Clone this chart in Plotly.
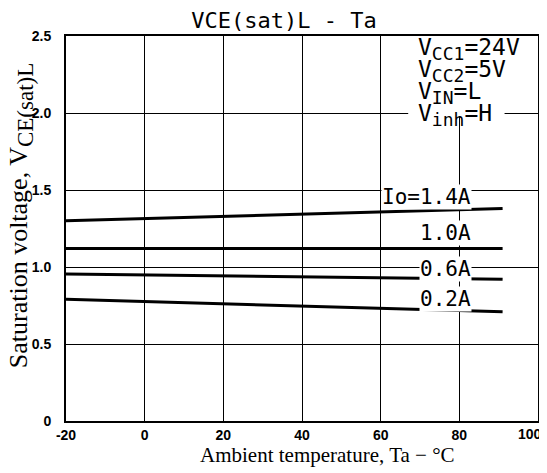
import plotly.graph_objects as go

# Ambient temperature (deg C) at the ends of each curve
ta = [-20, 91]

# Saturation voltage V_CE(sat)L for each output current
io_labels = ["Io=1.4A", "1.0A", "0.6A", "0.2A"]
v_14 = [1.30, 1.38]
v_10 = [1.12, 1.12]
v_06 = [0.955, 0.92]
v_02 = [0.79, 0.71]

label_y = [1.455, 1.22, 0.99, 0.79]

cond_lines = [
    "V<sub><span style='font-size:18px'>CC1</span></sub>=24V",
    "V<sub><span style='font-size:18px'>CC2</span></sub>=5V",
    "V<sub><span style='font-size:18px'>IN</span></sub>=L",
    "V<sub><span style='font-size:18px'>inh</span></sub>=H",
]
cond_y = [2.416, 2.273, 2.13, 1.99]

x_ticks = [-20, 0, 20, 40, 60, 80]
x_tick_text = ["-20", "0", "20", "40", "60", "80"]
x_last_tick = 100
y_ticks = [0, 0.5, 1.0, 1.5, 2.0, 2.5]
y_tick_text = ["0", "0.5", "1.0", "1.5", "2.0", "2.5"]

mono = "DejaVu Sans Mono"
serif = "Liberation Serif"
tick_font = dict(family="Liberation Sans", size=14, color="black", weight="bold")

fig = go.Figure()
for vals in [v_14, v_10, v_06, v_02]:
    fig.add_trace(go.Scatter(x=ta, y=vals, mode="lines",
                             line=dict(color="black", width=3), showlegend=False))

for text, y in zip(io_labels, label_y):
    fig.add_annotation(x=83.3, y=y, text=text, showarrow=False, xanchor="right",
                       font=dict(family=mono, size=21, color="black"),
                       bgcolor="white", borderpad=0)

# white patches behind the conditions, hide the grid there
fig.add_shape(type="rect", x0=61, x1=100, y0=2.006, y1=2.5, layer="between",
              fillcolor="white", line=dict(width=0))
fig.add_shape(type="rect", x0=67, x1=91.5, y0=1.98, y1=2.02, layer="between",
              fillcolor="white", line=dict(width=0))
for text, y in zip(cond_lines, cond_y):
    fig.add_annotation(x=69, y=y, text=text, showarrow=False, xanchor="left",
                       font=dict(family=mono, size=23, color="black"))

# last x tick label sits inside the right edge
fig.add_annotation(x=x_last_tick, y=0, yref="paper", text=str(x_last_tick),
                   showarrow=False, xanchor="right", yanchor="middle",
                   xshift=6, yshift=-13, font=tick_font)

# axis titles as annotations so they sit where the reference has them
fig.add_annotation(x=0.553, y=-0.088, xref="paper", yref="paper", showarrow=False,
                   xanchor="center", yanchor="middle",
                   text="Ambient temperature, Ta − °C",
                   font=dict(family=serif, size=21, color="black"))
fig.add_annotation(x=-0.097, y=0.535, xref="paper", yref="paper", showarrow=False,
                   xanchor="center", yanchor="middle", textangle=-90,
                   text="Saturation voltage, V<sub><span style='font-size:23px'>CE(sat)L</span></sub>",
                   font=dict(family=serif, size=26, color="black"))

# page body adds an 8px margin, so the figure is 8px smaller than the window
fig.update_layout(
    width=539, height=465,
    margin=dict(l=58, r=9, t=28, b=52),
    paper_bgcolor="white", plot_bgcolor="white",
    title=dict(text="VCE(sat)L - Ta", x=0.512, xanchor="center", y=0.974,
               yanchor="middle", font=dict(family=mono, size=22, color="black")),
)
fig.update_xaxes(
    range=[-20, 100], tickvals=x_ticks, ticktext=x_tick_text,
    showgrid=True, gridcolor="black", gridwidth=1,
    showline=True, linecolor="black", linewidth=2, mirror=True,
    ticks="", zeroline=False, automargin=False, tickfont=tick_font,
)
fig.update_yaxes(
    range=[0, 2.5], tickvals=y_ticks, ticktext=y_tick_text,
    showgrid=True, gridcolor="black", gridwidth=1,
    showline=True, linecolor="black", linewidth=2, mirror=True,
    ticks="", zeroline=False, ticklabelstandoff=10, automargin=False,
    tickfont=tick_font,
)

fig.write_html("out.html")
